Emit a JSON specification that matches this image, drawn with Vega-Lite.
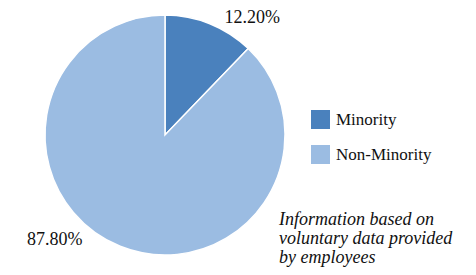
{
  "$schema": "https://vega.github.io/schema/vega-lite/v6.json",
  "width": 330,
  "height": 270,
  "autosize": {"type": "none"},
  "padding": {"left": 0, "top": 0, "right": 146, "bottom": 5},
  "background": "white",
  "config": {"view": {"stroke": null}},
  "title": {
    "text": ["Information based on", "voluntary data provided", "by employees"],
    "orient": "bottom",
    "anchor": "start",
    "align": "left",
    "baseline": "top",
    "dx": 279,
    "dy": -63,
    "font": "Liberation Serif, serif",
    "fontStyle": "italic",
    "fontWeight": "normal",
    "fontSize": 18,
    "lineHeight": 19,
    "color": "#111111"
  },
  "data": {
    "values": [
      {"group": "Minority", "value": 12.2, "label": "12.20%"},
      {"group": "Non-Minority", "value": 87.8, "label": "87.80%"}
    ]
  },
  "encoding": {
    "theta": {"field": "value", "type": "quantitative", "stack": true},
    "color": {
      "field": "group",
      "type": "nominal",
      "scale": {"domain": ["Minority", "Non-Minority"], "range": ["#4a81bd", "#9bbce2"]},
      "legend": {
        "orient": "none",
        "legendX": 311,
        "legendY": 110,
        "title": null,
        "symbolType": "square",
        "symbolSize": 361,
        "symbolStrokeWidth": 0,
        "labelFont": "Liberation Serif, serif",
        "labelFontSize": 17,
        "labelColor": "#111111",
        "labelOffset": 6,
        "rowPadding": 16
      }
    }
  },
  "layer": [
    {
      "mark": {"type": "arc", "radius": 120, "stroke": "white", "strokeWidth": 1.5}
    },
    {
      "mark": {
        "type": "text",
        "radius": 140,
        "font": "Liberation Serif, serif",
        "fontSize": 18,
        "color": "#111111",
        "dx": {"expr": "datum.group == 'Minority' ? 35 : -58"},
        "dy": {"expr": "datum.group == 'Minority' ? 13 : -25"}
      },
      "encoding": {
        "text": {"field": "label"},
        "color": {"value": "#111111"}
      }
    }
  ]
}
